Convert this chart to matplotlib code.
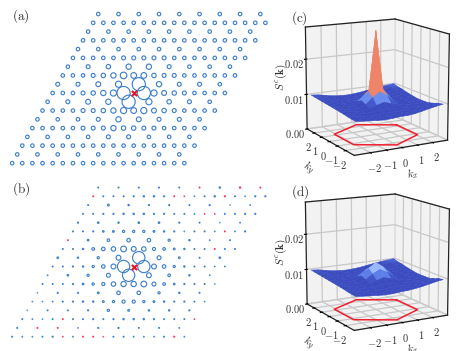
import numpy as np
import matplotlib
matplotlib.use("Agg")
import matplotlib.pyplot as plt

plt.rcParams['mathtext.fontset'] = 'cm'
plt.rcParams['font.family'] = ['cmr10', 'DejaVu Serif']
plt.rcParams['axes.formatter.use_mathtext'] = True

W, H = 464, 351
BLUE = '#3d7fc9'
RED = '#f0405a'

# Correlation magnitudes per kagome row, top row first; negative = red; 0 = central site
corr_a = [
 [4]*9,
 [4]*18,
 [4]*9,
 [4]*18,
 [4,4,4,4,4,4,4,4,4],
 [4,4,4,4,4,4.5,4.5,4.5,4.5,4.5,4,4,4,4,4,4,4,4],
 [4,4.5,5,6,6,4.5,4,4,4],
 [4,4,4,4.5,5,6,7.5,6.5,6.5,5,4.5,4.5,4,4,4,4,4,4],
 [4.5,4.5,5.5,7,15,6,4.5,4.5,4],
 [4,4,4,4.5,5,6,7,15,0,15,7,5.5,5,4.5,4,4,4,4],
 [4,4.5,5.5,6,15,7,5,4.5,4],
 [4,4,4,4,4.5,4.5,5,6,7,6.5,7,5.5,5,4.5,4,4,4,4],
 [4,4,4,4.5,6,5.5,4.5,4.5,4],
 [4,4,4,4,4,4.5,4.5,4.5,6,5,5,4.5,4.5,4,4,4,4,4],
 [4,4,4,4,4.5,4.5,4,4,4],
 [4]*18,
 [4]*9,
 [4]*18,
]
corr_b = [
 [1,1,1,1,1,-1,1.5,-1.5,-1],
 [-1,1,1,1,1.2,1.5,1.5,1.2,-1,-.8,.8,1,1.5,-1.2,1,.7,1.2,1.2],
 [1,2,1.5,1.2,1.2,1,1.2,.6,.8],
 [1,1,1.2,1.2,1.5,1.5,1.5,1.2,1.2,1,1,.8,-.8,-.8,1,1,1.2,1.2],
 [1.2,1.8,1.5,1.8,1.8,1.2,1,.6,.8],
 [1,1,1.2,1.8,2,2.5,2.5,2.5,2,1.5,1.2,.7,1,1,.8,-1,.8,1.2],
 [-1,1.8,3,4,4,2.5,1.5,.8,1],
 [1,1,1.5,3,4,5,6.5,5.5,5,3.5,3,2,1.5,1,1,-1,1,1],
 [1.8,1.5,2.5,5.5,14,4.5,2,1,1.8],
 [1,1,1.2,1.5,2.5,4,5.5,14,0,14,5.5,4,2.5,1.5,1,1,.8,.8],
 [.8,1.8,2.5,4.5,14,5.5,3,1.5,.8],
 [1,1,1,1.2,1.8,2.5,3.5,5,6,6,6.5,4.5,3,1.8,1.2,1,1,.6],
 [.6,1.2,1.2,2,4,4,2.5,1.5,1],
 [.7,.7,.8,1,1.2,1.5,1.5,2,2.5,3.5,3.5,2.5,2,1.5,1.2,1.2,1,.7],
 [.6,1,1,1.2,2.5,2,1.5,1.5,1.2],
 [1,.8,.7,1,-1,1,1,1.2,1,1.2,1.5,1.5,1.5,1.2,1,1,1,-.8],
 [1,-1,-1,.7,1.2,1.2,1,1,.8],
 [1,.8,.8,.9,1.2,-.8,.8,-1,-1,-.7,1,1,.9,.8,.8,1,-1.2,.8],
]

# Structure factor on a 13x13 k grid (rows: ky from -2.8 to 2.8; columns: kx from -2.8 to 2.8)
k_grid = [-2.8,-2.33,-1.87,-1.4,-.93,-.47,0,.47,.93,1.4,1.87,2.33,2.8]
S_c = [
 [.0086,.0084,.0082,.0080,.0079,.0080,.0082,.0082,.0084,.0088,.0092,.0096,.0099],
 [.0087,.0085,.0082,.0080,.0080,.0081,.0083,.0083,.0084,.0087,.0090,.0094,.0097],
 [.0088,.0086,.0083,.0082,.0082,.0083,.0084,.0084,.0084,.0085,.0087,.0090,.0092],
 [.0090,.0087,.0085,.0084,.0085,.0087,.0089,.0087,.0085,.0084,.0085,.0086,.0088],
 [.0091,.0089,.0086,.0086,.0089,.0095,.0101,.0095,.0089,.0086,.0085,.0085,.0086],
 [.0092,.0090,.0088,.0088,.0095,.0112,.0125,.0112,.0095,.0088,.0087,.0086,.0086],
 [.0093,.0091,.0089,.0089,.0101,.0125,.0290,.0125,.0101,.0089,.0088,.0087,.0086],
 [.0094,.0092,.0090,.0088,.0095,.0112,.0125,.0112,.0095,.0088,.0089,.0089,.0088],
 [.0095,.0093,.0090,.0086,.0089,.0095,.0101,.0095,.0089,.0087,.0089,.0091,.0090],
 [.0096,.0093,.0089,.0085,.0085,.0087,.0089,.0087,.0085,.0086,.0090,.0093,.0093],
 [.0097,.0094,.0089,.0085,.0084,.0084,.0084,.0084,.0086,.0089,.0092,.0095,.0096],
 [.0098,.0095,.0090,.0087,.0085,.0084,.0084,.0086,.0089,.0092,.0095,.0097,.0098],
 [.0099,.0097,.0093,.0089,.0087,.0086,.0087,.0089,.0092,.0095,.0098,.0100,.0102],
]
S_d = [
 [.0086,.0084,.0082,.0080,.0079,.0079,.0081,.0082,.0084,.0087,.0091,.0095,.0098],
 [.0087,.0085,.0082,.0080,.0079,.0080,.0082,.0083,.0084,.0086,.0089,.0093,.0096],
 [.0088,.0086,.0083,.0081,.0081,.0082,.0084,.0084,.0084,.0085,.0087,.0089,.0091],
 [.0090,.0087,.0085,.0084,.0084,.0087,.0089,.0087,.0085,.0084,.0085,.0086,.0087],
 [.0091,.0089,.0086,.0086,.0089,.0095,.0100,.0095,.0089,.0086,.0085,.0085,.0086],
 [.0092,.0090,.0088,.0088,.0095,.0108,.0118,.0108,.0095,.0088,.0087,.0086,.0086],
 [.0093,.0091,.0089,.0089,.0100,.0118,.0132,.0118,.0100,.0089,.0088,.0087,.0086],
 [.0094,.0092,.0090,.0088,.0095,.0108,.0118,.0108,.0095,.0088,.0089,.0089,.0088],
 [.0095,.0093,.0090,.0086,.0089,.0095,.0100,.0095,.0089,.0087,.0089,.0091,.0090],
 [.0096,.0093,.0089,.0085,.0085,.0087,.0089,.0087,.0085,.0086,.0090,.0093,.0093],
 [.0097,.0094,.0089,.0085,.0084,.0084,.0084,.0084,.0086,.0089,.0092,.0095,.0096],
 [.0098,.0095,.0090,.0087,.0085,.0084,.0084,.0086,.0089,.0092,.0095,.0097,.0098],
 [.0099,.0097,.0093,.0089,.0087,.0086,.0087,.0089,.0092,.0095,.0098,.0100,.0102],
]
hex_kx = [2.094, 0, -2.094, -2.094, 0, 2.094, 2.094]
hex_ky = [1.209, 2.418, 1.209, -1.209, -2.418, -1.209, 1.209]
k_ticks = [-2, -1, 0, 1, 2]
z_ticks = [0.00, 0.01, 0.02]

dpi = 100
fig = plt.figure(figsize=(W/dpi, H/dpi), dpi=dpi)
px = 10.13
ROW = np.sqrt(3)/2

def lattice(ax, rows):
    xs, ys, vals = [], [], []
    n = len(rows)
    for idx, row in enumerate(rows):
        r = n - 1 - idx
        step = 1 if len(row) == 18 else 2
        for i, v in enumerate(row):
            xs.append((r - 8)*0.5 + i*step - 8)
            ys.append((r - 8)*ROW)
            vals.append(v)
    xs, ys, vals = np.array(xs), np.array(ys), np.array(vals, float)
    m = vals != 0
    s = (np.abs(vals)*0.88*72/dpi)**2
    cols = np.where(vals < 0, RED, BLUE)
    ax.scatter(xs[m], ys[m], s=s[m], facecolors='none', edgecolors=cols[m], linewidths=0.82)
    ax.scatter(xs[~m], ys[~m], marker='x', s=14, c='#f01020', linewidths=1.5, zorder=5)

def flat_axes(x0, y0, w, h, cx, cy):
    ax = fig.add_axes([x0/W, 1-(y0+h)/H, w/W, h/H])
    ax.set_xlim((x0-cx)/px, (x0+w-cx)/px)
    ax.set_ylim((cy-(y0+h))/px, (cy-y0)/px)
    ax.axis('off')
    return ax

axa = flat_axes(0, 0, 275, 175, 133.7, 93)
lattice(axa, corr_a)
axb = flat_axes(0, 175, 275, 176, 133.7, 266.5)
lattice(axb, corr_b)
fig.text(12/W, 1-16/H, r'$\mathrm{(a)}$', fontsize=9.5, color='#333333', va='center')
fig.text(12/W, 1-189.5/H, r'$\mathrm{(b)}$', fontsize=9.5, color='#333333', va='center')
fig.text(291/W, 1-18/H, r'$\mathrm{(c)}$', fontsize=9.5, color='#333333', va='center', zorder=20)
fig.text(291/W, 1-192/H, r'$\mathrm{(d)}$', fontsize=9.5, color='#333333', va='center', zorder=20)

cmap = plt.get_cmap('coolwarm')
norm = plt.Normalize(0.0095, 0.018)

def surf_panel(rect, Z, zlabel):
    ax = fig.add_axes(rect, projection='3d')
    ax.patch.set_alpha(0)
    L = 3.0
    ztop = 0.029
    ax.set_xlim(-L, L); ax.set_ylim(-L, L); ax.set_zlim(0, ztop)
    ax.view_init(elev=13, azim=-119)
    ax.set_box_aspect((1, 1, 1.02), zoom=1.0)
    K = np.array(k_grid)
    X, Y = np.meshgrid(K, K)
    Z = np.array(Z)
    # one colour per facet, from the mean of its four corners
    face = (Z[:-1, :-1] + Z[1:, :-1] + Z[:-1, 1:] + Z[1:, 1:]) / 4
    ax.plot_surface(X, Y, Z, facecolors=cmap(norm(face)),
                    rstride=1, cstride=1, linewidth=0.35, antialiased=True, shade=False)
    ax.plot(hex_kx, hex_ky, [0]*7, color='#f02030', lw=1.1, zorder=10)
    ax.set_xticks(k_ticks); ax.set_yticks(k_ticks); ax.set_zticks(z_ticks)
    ax.set_xticklabels([f'${t}$' for t in k_ticks], fontsize=7.5, color='#333333')
    ax.set_yticklabels([f'${t}$' for t in k_ticks], fontsize=7.5, color='#333333')
    ax.set_zticklabels([f'${t:.2f}$' for t in z_ticks], fontsize=7.5, color='#333333')
    ax.tick_params(axis='x', pad=-3.5)
    ax.tick_params(axis='y', pad=-3.5)
    ax.tick_params(axis='z', pad=-2)
    ax.set_xlabel(r'$k_x$', fontsize=8, labelpad=-8, color='#333333')
    ax.set_ylabel(r'$k_y$', fontsize=8, labelpad=-6, color='#333333')
    ax.zaxis.set_rotate_label(False)
    ax.set_zlabel(zlabel, fontsize=8, labelpad=-9, color='#333333', rotation=90)
    for a in (ax.xaxis, ax.yaxis, ax.zaxis):
        a.set_pane_color('#f2f2f2')
        a.pane.set_edgecolor('#dddddd')
        a._axinfo['grid'].update(color='#c8c8c8', linewidth=0.9)
        a.line.set_color('#222222')
        a.line.set_linewidth(0.9)
    ax.plot([-L, L], [L, L], [ztop, ztop], color='#222222', lw=0.9)
    ax.plot([L, L], [L, -L], [ztop, ztop], color='#222222', lw=0.9)
    ax.plot([L, L], [-L, -L], [0, ztop], color='#222222', lw=0.9)
    ax.set_xlim(-L, L); ax.set_ylim(-L, L); ax.set_zlim(0, ztop)
    return ax

surf_panel([276/W, 1-174/H, 195/W, 177/H], S_c, r'$S^{c}(\mathbf{k})$')
surf_panel([276/W, 1-349/H, 195/W, 177/H], S_d, r'$S^{c}(\mathbf{k})$')

fig.savefig('out.png', dpi=dpi)
